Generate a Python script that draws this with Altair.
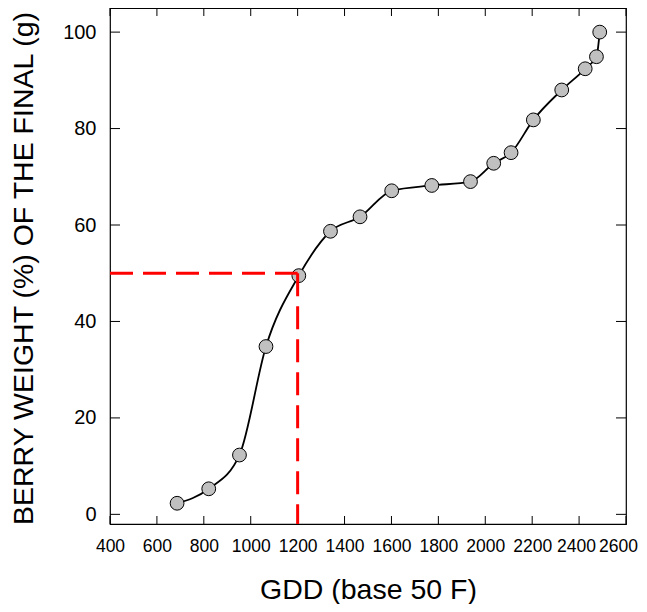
import altair as alt
import pandas as pd

# data
gdd = [686, 821, 952, 1065, 1205, 1340, 1466, 1601, 1772, 1937, 2036, 2110, 2205, 2326, 2426, 2474, 2488]
pct = [2.3, 5.3, 12.3, 34.8, 49.5, 58.7, 61.7, 67.1, 68.2, 69.0, 72.8, 75.0, 81.8, 88.0, 92.4, 94.9, 100.0]
x_ticks = [400, 600, 800, 1000, 1200, 1400, 1600, 1800, 2000, 2200, 2400, 2600]
y_ticks = [0, 20, 40, 60, 80, 100]
x_domain = [400, 2600]
y_domain = [-2, 105]
ref_gdd = 1200
ref_pct = 50

W, H = 516, 516
FONT = "Liberation Sans"

xs = alt.Scale(domain=x_domain, nice=False, zero=False)
ys = alt.Scale(domain=y_domain, nice=False, zero=False)

df = pd.DataFrame({"gdd": gdd, "pct": pct})

x_axis = alt.Axis(
    values=x_ticks, format="d", ticks=False, tickSize=0, domain=False, grid=False,
    labelFont=FONT, labelFontSize=17.5, labelColor="black", labelPadding=13,
    labelFlush=False, labelOverlap=False, labelBound=False,
    labelOffset={
        "condition": [
            {"test": f"datum.value === {x_ticks[-1]}", "value": -8},
            {"test": f"datum.value === {x_ticks[-2]}", "value": -3},
        ],
        "value": 0,
    },
    title="GDD (base 50 F)", titleFont=FONT, titleFontSize=28.5, titleFontWeight="normal",
    titleColor="black", titleX=W / 2, titleY=74, titleAlign="center", titleBaseline="alphabetic",
)
y_axis = alt.Axis(
    values=y_ticks, format="d", ticks=False, tickSize=0, domain=False, grid=False,
    labelFont=FONT, labelFontSize=20, labelColor="black", labelPadding=14,
    labelOverlap=False, labelBound=False,
    title="BERRY WEIGHT (%) OF THE FINAL (g)", titleFont=FONT, titleFontSize=28.5,
    titleFontWeight="normal", titleColor="black", titleAngle=270,
    titleX=-87, titleY=H / 2 + 2, titleAlign="center", titleBaseline="middle",
)


def X(field):
    return alt.X(field, type="quantitative", scale=xs, axis=x_axis)


def Y(field):
    return alt.Y(field, type="quantitative", scale=ys, axis=y_axis)


line = alt.Chart(df).mark_line(color="black", strokeWidth=1.8, interpolate="monotone").encode(
    x=X("gdd"), y=Y("pct"))
points = alt.Chart(df).mark_circle(
    size=190, color="#c0c0c0", stroke="black", strokeWidth=1, opacity=1
).encode(x=X("gdd"), y=Y("pct"))

xt = pd.DataFrame({"v": x_ticks})
yt = pd.DataFrame({"v": y_ticks})
bottom_ticks = alt.Chart(xt).mark_rule(color="black", strokeWidth=1).encode(
    x=X("v"), y=alt.value(H), y2=alt.value(H - 8))
top_ticks = alt.Chart(xt).mark_rule(color="black", strokeWidth=1).encode(
    x=X("v"), y=alt.value(0), y2=alt.value(8))
left_ticks = alt.Chart(yt).mark_rule(color="black", strokeWidth=1).encode(
    y=Y("v"), x=alt.value(0), x2=alt.value(10))
right_ticks = alt.Chart(yt).mark_rule(color="black", strokeWidth=1).encode(
    y=Y("v"), x=alt.value(W - 10), x2=alt.value(W))

href = pd.DataFrame({"x0": [x_domain[0]], "x1": [ref_gdd], "py": [ref_pct]})
vref = pd.DataFrame({"gx": [ref_gdd], "y0": [ref_pct], "y1": [y_domain[0]]})
hline = alt.Chart(href).mark_rule(color="#ff0000", strokeWidth=3, strokeDash=[23, 10]).encode(
    x=X("x0"), x2="x1:Q", y=Y("py"))
vline = alt.Chart(vref).mark_rule(color="#ff0000", strokeWidth=3, strokeDash=[23, 10]).encode(
    x=X("gx"), y=Y("y0"), y2="y1:Q")

chart = alt.layer(
    line, points, bottom_ticks, top_ticks, left_ticks, right_ticks, hline, vline
).properties(
    width=W, height=H,
    autosize=alt.AutoSizeParams(type="none"),
    padding={"left": 102, "top": 0, "right": 13, "bottom": 80},
    background="white",
).configure_view(stroke="black", strokeWidth=1.2)

chart.save("out.html", embed_options={"renderer": "svg", "actions": False})
